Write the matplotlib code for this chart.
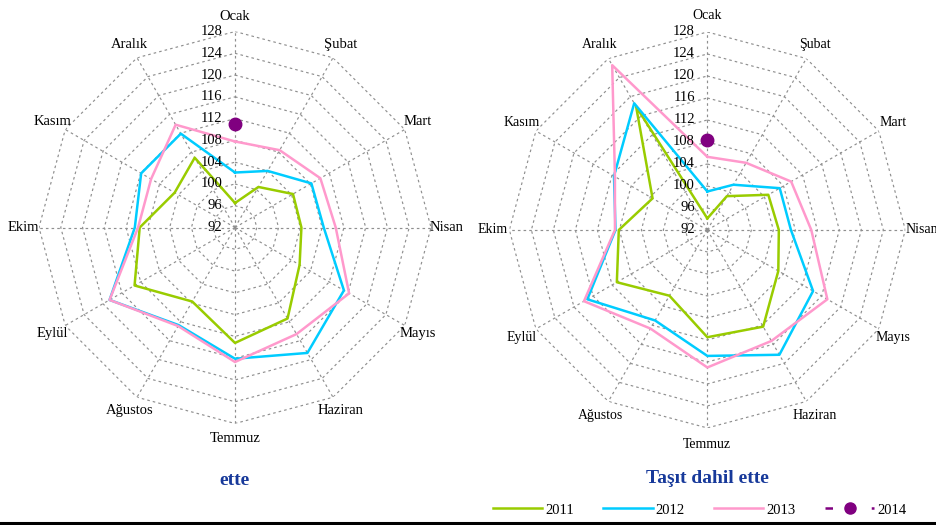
import matplotlib
matplotlib.use('Agg')
import matplotlib.pyplot as plt
import numpy as np
from matplotlib.lines import Line2D

plt.rcParams['font.family'] = ['Liberation Serif', 'DejaVu Serif']

months = ["Ocak", "Şubat", "Mart", "Nisan", "Mayıs", "Haziran",
          "Temmuz", "Ağustos", "Eylül", "Ekim", "Kasım", "Aralık"]
rticks = [92, 96, 100, 104, 108, 112, 116, 120, 124, 128]

# left panel ("ette")
left_2011 = [96.5, 100.6, 104.3, 104.2, 105.7, 111.3, 113.2, 107.7, 113.3, 109.5, 104.8, 106.8]
left_2012 = [102.1, 104.0, 108.2, 108.3, 115.1, 118.6, 116.1, 112.7, 118.6, 110.4, 111.9, 111.9]
left_2013 = [107.8, 108.4, 110.1, 110.5, 116.2, 114.6, 116.7, 112.9, 118.6, 109.8, 109.8, 113.8]
left_2014 = [111.0]

# right panel ("Taşıt dahil ette")
right_2011 = [94.1, 99.1, 104.8, 105.0, 106.9, 112.3, 111.5, 105.8, 111.0, 108.1, 103.5, 117.9]
right_2012 = [99.0, 101.5, 107.2, 107.2, 114.2, 118.2, 114.9, 111.0, 117.2, 108.7, 111.6, 118.6]
right_2013 = [105.3, 106.1, 109.6, 110.9, 117.2, 115.3, 117.0, 112.7, 117.9, 108.8, 111.4, 126.6]
right_2014 = [108.4]

years = ["2011", "2012", "2013", "2014"]
colors = ['#99CC00', '#00CCFF', '#FF99CC', '#800080']
grid_c = '#8f8f8f'
title_c = '#17399a'


def radar(ax, s11, s12, s13, s14, title, title_y, label_r, label_fs):
    ang = np.linspace(0, 2 * np.pi, len(months), endpoint=False)
    ang_c = np.append(ang, ang[0])
    ax.set_theta_zero_location('N')
    ax.set_theta_direction(-1)
    ax.set_ylim(rticks[0], rticks[-1])
    ax.grid(False)
    ax.spines['polar'].set_visible(False)
    ax.set_xticks([])
    ax.set_yticks([])

    # polygon grid + spokes
    for r in rticks[1:]:
        ax.plot(ang_c, [r] * len(ang_c), color=grid_c, lw=0.85,
                linestyle=(0, (2.2, 2.6)), zorder=1)
    for a in ang:
        ax.plot([a, a], [rticks[0], rticks[-1]], color=grid_c, lw=0.85,
                linestyle=(0, (2.2, 2.6)), zorder=1)

    for vals, c in zip([s11, s12, s13], colors[:3]):
        ax.plot(ang_c, vals + vals[:1], color=c, lw=1.8, zorder=3)
    ax.plot(ang[:len(s14)], s14, color=colors[3], marker='o', markersize=9,
            linestyle='none', zorder=4)

    for r in rticks:
        ax.annotate(str(r), xy=(0, r), xytext=(-9, 0), textcoords='offset points',
                    ha='right', va='center', fontsize=10.5, annotation_clip=False)
    for a, m in zip(ang, months):
        ax.text(a, label_r, m, ha='center', va='center', fontsize=label_fs, clip_on=False)

    ax.text(0.5, title_y, title, transform=ax.transAxes, ha='center', va='center',
            fontsize=14, fontweight='bold', color=title_c)


fig = plt.figure(figsize=(9.37, 5.25), dpi=100)
fig.patch.set_facecolor('white')

ax1 = fig.add_axes([0.0416, 0.1933, 0.4184, 0.7467], projection='polar')
radar(ax1, left_2011, left_2012, left_2013, left_2014, "ette", -0.146, 130.8, 10.5)

ax2 = fig.add_axes([0.5436, 0.1848, 0.4226, 0.7543], projection='polar')
radar(ax2, right_2011, right_2012, right_2013, right_2014, "Taşıt dahil ette", -0.128,
      131.0, 10)

handles = [Line2D([0], [0], color=colors[0], lw=1.8),
           Line2D([0], [0], color=colors[1], lw=1.8),
           Line2D([0], [0], color=colors[2], lw=1.8),
           Line2D([0], [0], color=colors[3], lw=1.8, linestyle=(0, (3, 15.5)),
                  marker='o', markersize=8)]
fig.legend(handles, years, loc='center', bbox_to_anchor=(0.7465, 0.0286), ncol=4,
           frameon=False, fontsize=10.5, handlelength=3.4, handletextpad=0.2,
           columnspacing=2.0)

fig.add_artist(Line2D([0, 1], [0.004, 0.004], transform=fig.transFigure,
                      color='black', lw=2.2))

fig.savefig('out.png', dpi=100)
